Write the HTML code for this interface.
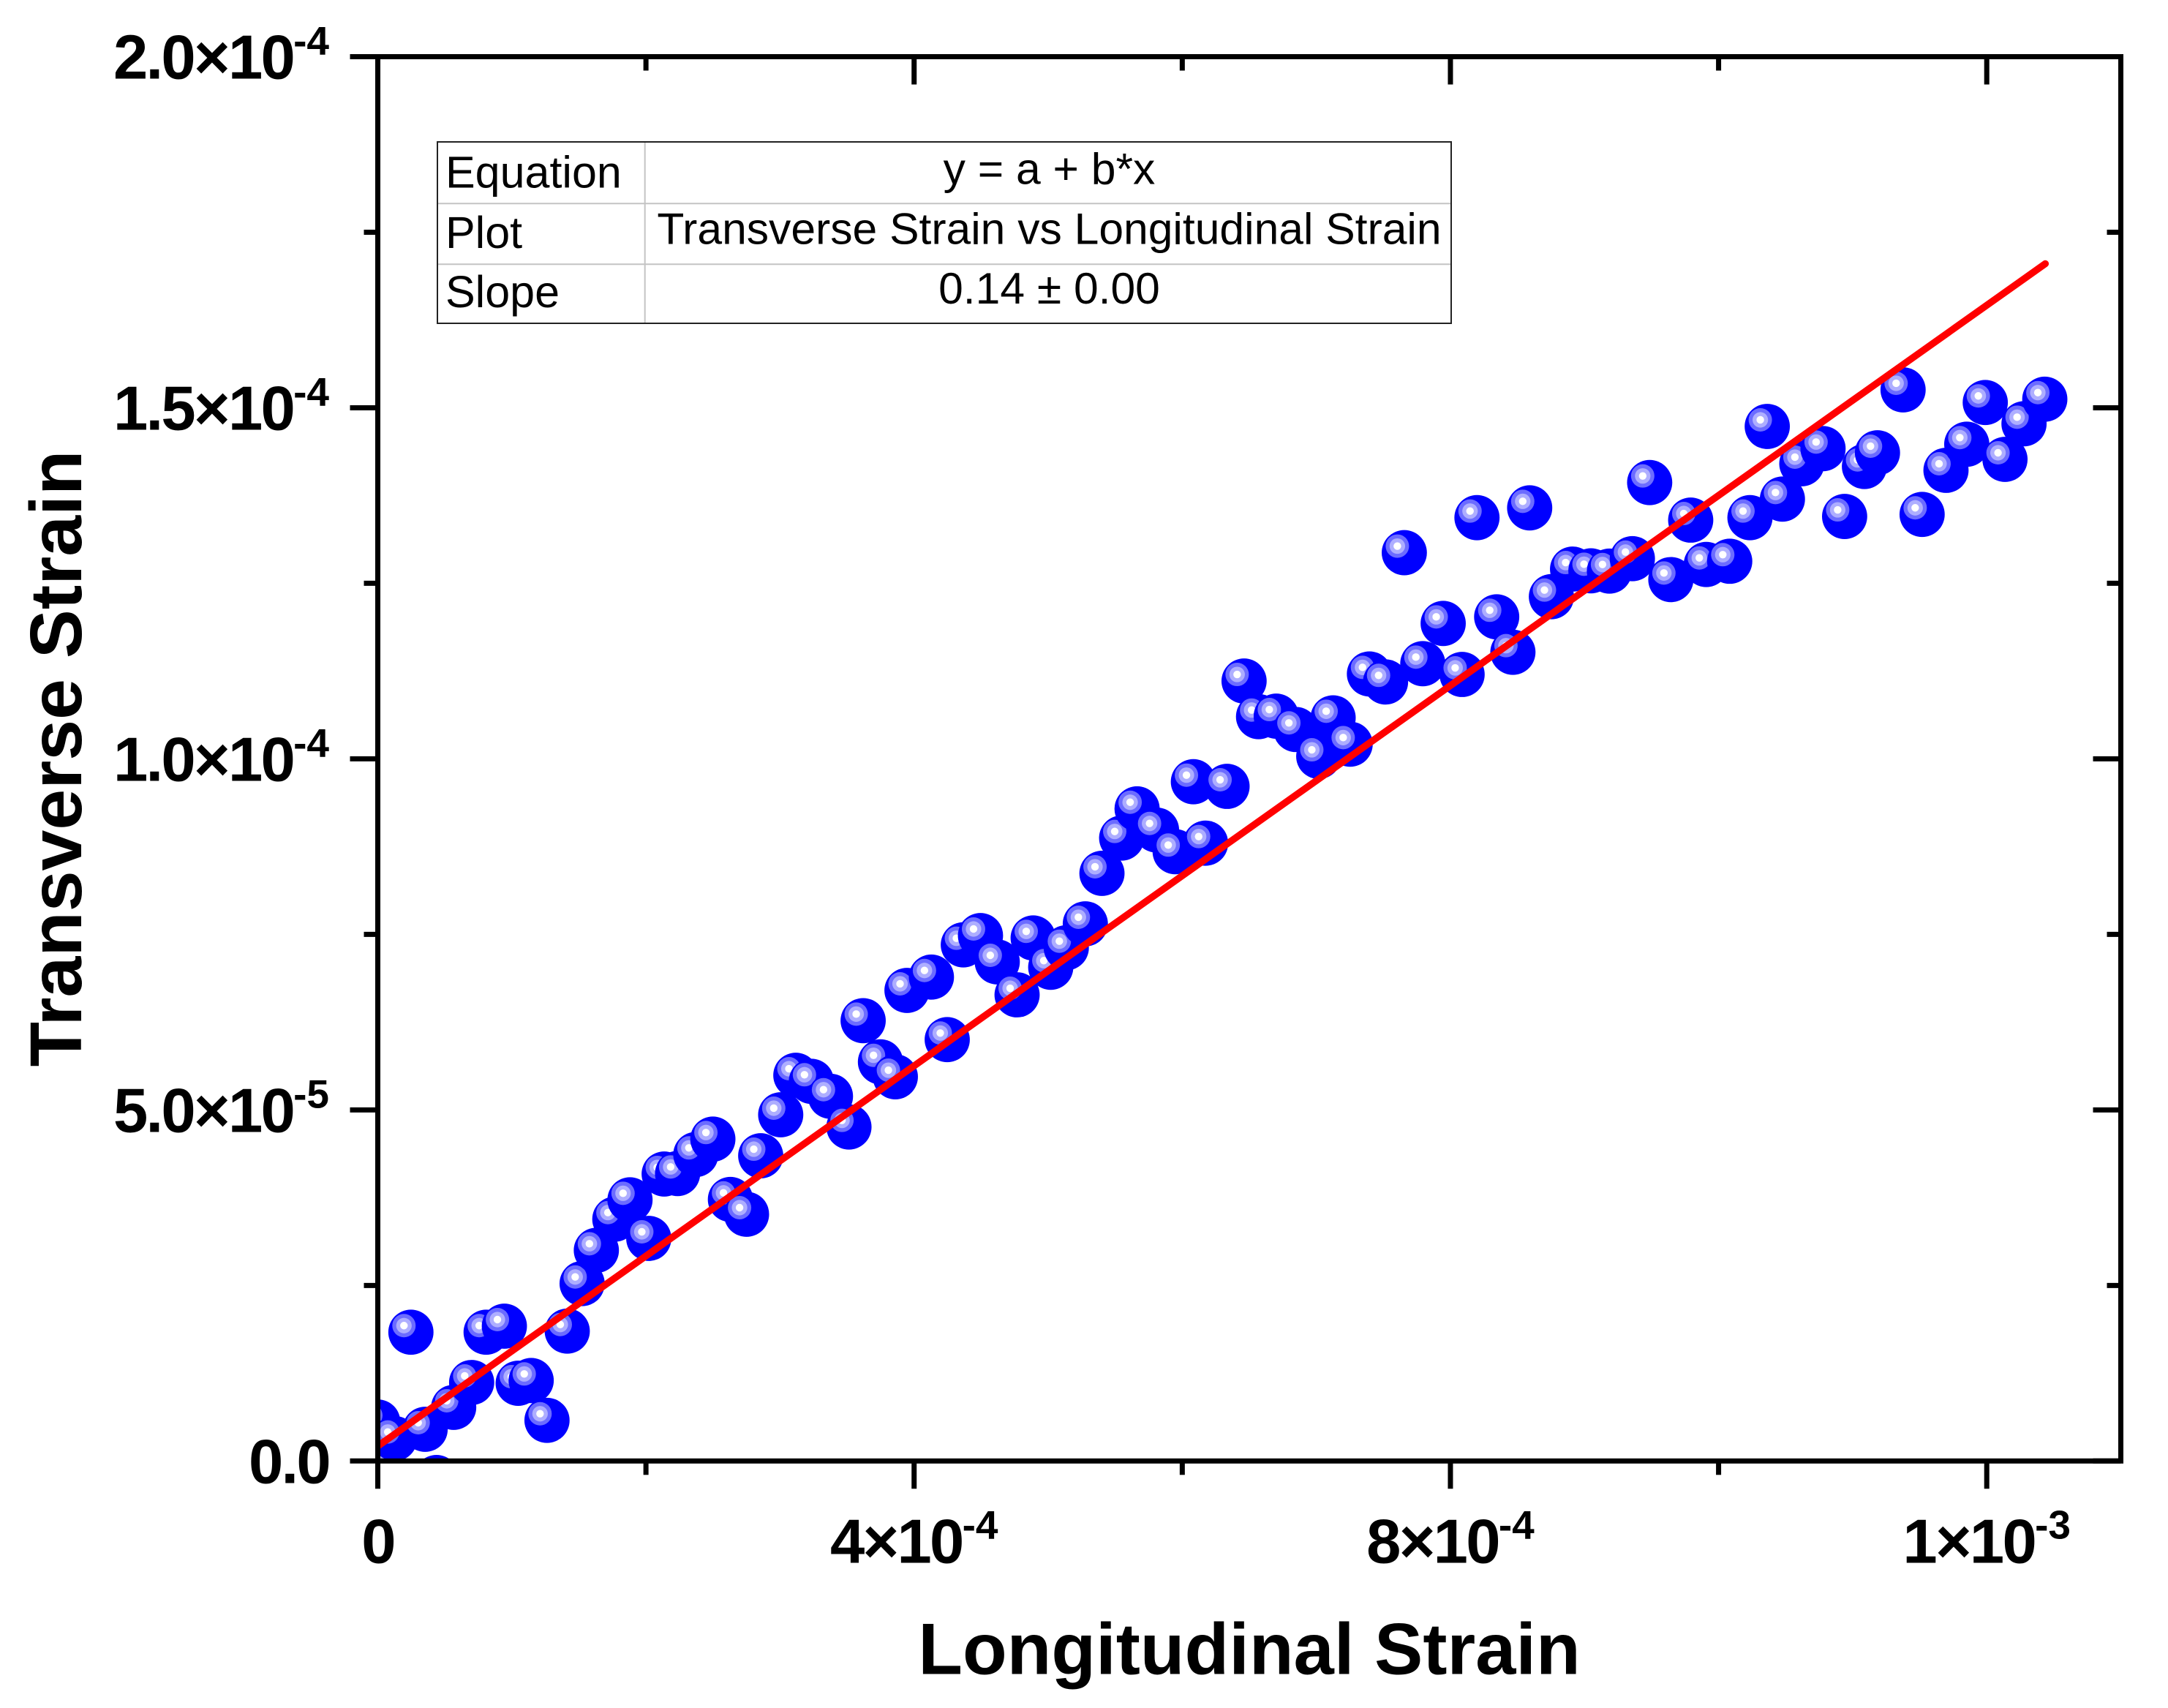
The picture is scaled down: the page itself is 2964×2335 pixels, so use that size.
<!DOCTYPE html>
<html lang="en">
<head>
<meta charset="utf-8">
<title>Transverse Strain vs Longitudinal Strain</title>
<style>
  html, body { margin: 0; padding: 0; background: #ffffff; }
  svg { display: block; }
  text { font-family: "Liberation Sans", Arial, sans-serif; fill: #000; }
</style>
</head>
<body>
<svg id="chart" xmlns="http://www.w3.org/2000/svg" width="2964" height="2335" viewBox="0 0 2964 2335">
  <defs>
    <clipPath id="plot-clip"><rect x="516.5" y="77.5" width="2383" height="1919.8"></rect></clipPath>
  </defs>
  <rect x="0" y="0" width="2964" height="2335" fill="#ffffff"></rect>
  <g id="markers" clip-path="url(#plot-clip)"></g>
  <g id="fit" clip-path="url(#plot-clip)"></g>
  <g id="axes"></g>

  <g>
    <rect x="598" y="194" width="1386" height="248" fill="#ffffff"></rect>
    <line x1="598" y1="278.3" x2="1984" y2="278.3" stroke="#c4c4c4" stroke-width="2"></line>
    <line x1="598" y1="361.3" x2="1984" y2="361.3" stroke="#c4c4c4" stroke-width="2"></line>
    <line x1="881.7" y1="194" x2="881.7" y2="442" stroke="#c4c4c4" stroke-width="2"></line>
    <rect x="598" y="194" width="1386" height="248" fill="none" stroke="#222222" stroke-width="2"></rect>
    <text x="609" y="256.7" font-size="61">Equation</text>
    <text x="609" y="339" font-size="61">Plot</text>
    <text x="609" y="420" font-size="61">Slope</text>
    <text x="1434.5" y="251.7" font-size="60.6" text-anchor="middle">y = a + b*x</text>
    <text x="1434.5" y="333.3" font-size="60.6" text-anchor="middle">Transverse Strain vs Longitudinal Strain</text>
    <text x="1434.5" y="415" font-size="60.6" text-anchor="middle">0.14 ± 0.00</text>
  </g>

  <text x="1708" y="2288.5" font-size="99.4" font-weight="700" text-anchor="middle">Longitudinal Strain</text>
  <text transform="translate(111 1037) rotate(-90)" x="0" y="0" font-size="100.4" font-weight="700" text-anchor="middle">Transverse Strain</text>
</svg>

<script>
// Longitudinal strain, in units of 1e-4
const longitudinalStrainE4 = [
  0, 0.044, 0.126, 0.247, 0.353, 0.438, 0.566, 0.700, 0.808, 0.944,
  1.047, 1.144, 1.262, 1.413, 1.524, 1.630, 1.768, 1.881, 2.021, 2.136,
  2.236, 2.372, 2.499, 2.630, 2.750, 2.856, 3.005, 3.118, 3.234, 3.376,
  3.514, 3.620, 3.749, 3.860, 3.947, 4.129, 4.247, 4.367, 4.495, 4.620,
  4.768, 4.888, 5.019, 5.135, 5.277, 5.401, 5.548, 5.663, 5.808, 5.947,
  6.083, 6.174, 6.334, 6.461, 6.569, 6.701, 6.847, 7.018, 7.125, 7.252,
  7.396, 7.516, 7.656, 7.794, 7.946, 8.087, 8.198, 8.345, 8.466, 8.591, 8.753,
  8.911, 9.048, 9.186, 9.357, 9.486, 9.644, 9.792, 9.908, 10.083, 10.234,
  10.363, 10.476, 10.621, 10.779, 10.940, 11.088, 11.185, 11.376, 11.518, 11.696,
  11.851, 11.989, 12.136, 12.278, 12.433
];
// Transverse strain, in units of 1e-5
const transverseStrainE5 = [
  0.555, -0.070, 0.319, 1.834, 0.451, -0.236, 0.764, 1.118, 1.834, 1.920,
  1.107, 1.146, 0.579, 1.850, 2.527, 3.000, 3.444, 3.719, 3.170, 4.087,
  4.094, 4.365, 4.584, 3.725, 3.514, 4.347, 4.931, 5.493, 5.407, 5.194,
  4.757, 6.271, 5.684, 5.472, 6.702, 6.892, 6.001, 7.351, 7.483, 7.108,
  6.639, 7.449, 7.032, 7.309, 7.650, 8.369, 8.872, 9.288, 8.986, 8.678,
  9.674, 8.799, 9.608, 11.108, 10.601, 10.608, 10.418, 10.035, 10.584, 10.209,
  11.209, 11.095, 12.936, 11.355, 11.928, 11.202, 13.435, 12.022, 11.518, 13.574, 12.310,
  12.702, 12.678, 12.674, 12.851, 13.935, 12.553, 13.400, 12.768, 12.814, 13.435,
  14.734, 13.699, 14.203, 14.418, 13.452, 14.164, 14.359, 15.255, 13.481, 14.109,
  14.481, 15.075, 14.265, 14.772, 15.122
];
// Linear fit: slope is dimensionless, so 1e-4 in x gives slope*10 in units of 1e-5
const fitInterceptE5 = 0.2115;
const fitSlope = 0.1354;
const fitRangeE4 = [0, 12.437];

// Axis ticks
const xTickValues = [0, 2, 4, 6, 8, 10, 12];
const xMajorValues = [0, 4, 8, 12];
const xTickBases = ['0', '4×10', '8×10', '1×10'];
const xTickExponents = ['', '-4', '-4', '-3'];
const yTickValues = [0, 2.5, 5, 7.5, 10, 12.5, 15, 17.5, 20];
const yMajorValues = [0, 5, 10, 15, 20];
const yTickBases = ['0.0', '5.0×10', '1.0×10', '1.5×10', '2.0×10'];
const yTickExponents = ['', '-5', '-4', '-4', '-4'];

const xDomain = [0, 13];
const yDomain = [0, 20];
const plotLeft = 516.5, plotRight = 2899.5, plotTop = 77.5, plotBottom = 1997.3;

function xScale(v) {
  return plotLeft + (v - xDomain[0]) / (xDomain[1] - xDomain[0]) * (plotRight - plotLeft);
}
function yScale(v) {
  return plotBottom - (v - yDomain[0]) / (yDomain[1] - yDomain[0]) * (plotBottom - plotTop);
}

const NS = 'http://www.w3.org/2000/svg';
function make(tag, attrs, parent) {
  const el = document.createElementNS(NS, tag);
  for (const k in attrs) el.setAttribute(k, attrs[k]);
  parent.appendChild(el);
  return el;
}

// Markers
const markerLayer = document.getElementById('markers');
const ballRadius = 30.9;
longitudinalStrainE4.forEach(function (xv, i) {
  const cx = xScale(xv);
  const cy = yScale(transverseStrainE5[i]);
  const g = make('g', {}, markerLayer);
  
  
  make('circle', { cx: cx, cy: cy, r: ballRadius, fill: '#0000ff' }, g);
  make('circle', { cx: cx - 9.5, cy: cy - 9, r: 16, fill: '#6c6cff' }, g);
  make('circle', { cx: cx - 9.5, cy: cy - 9, r: 10.6, fill: '#aeaeff' }, g);
  make('circle', { cx: cx - 9.5, cy: cy - 9, r: 5.2, fill: '#ffffff' }, g);
});

// Fit line
const fitLayer = document.getElementById('fit');
const fitLine = make('line', {
  x1: xScale(fitRangeE4[0]),
  y1: yScale(fitInterceptE5 + fitSlope * 10 * fitRangeE4[0]),
  x2: xScale(fitRangeE4[1]),
  y2: yScale(fitInterceptE5 + fitSlope * 10 * fitRangeE4[1]),
  stroke: '#ff0000',
  'stroke-width': 9.5,
  'stroke-linecap': 'round'
}, fitLayer);



// Axes
const axesLayer = document.getElementById('axes');
const frame = make('rect', {
  x: plotLeft, y: plotTop,
  width: plotRight - plotLeft, height: plotBottom - plotTop,
  fill: 'none', stroke: '#000', 'stroke-width': 7
}, axesLayer);



const majorLen = 38, minorLen = 19, tickWidth = 7;
xTickValues.forEach(function (v) {
  const x = xScale(v);
  const len = xMajorValues.indexOf(v) >= 0 ? majorLen : minorLen;
  const bottomTick = make('line', { x1: x, y1: plotBottom, x2: x, y2: plotBottom + len, stroke: '#000', 'stroke-width': tickWidth }, axesLayer);
  
  
  const topTick = make('line', { x1: x, y1: plotTop, x2: x, y2: plotTop + len, stroke: '#000', 'stroke-width': tickWidth }, axesLayer);
  
  
});
yTickValues.forEach(function (v) {
  const y = yScale(v);
  const len = yMajorValues.indexOf(v) >= 0 ? majorLen : minorLen;
  const leftTick = make('line', { x1: plotLeft, y1: y, x2: plotLeft - len, y2: y, stroke: '#000', 'stroke-width': tickWidth }, axesLayer);
  
  
  const rightTick = make('line', { x1: plotRight, y1: y, x2: plotRight - len, y2: y, stroke: '#000', 'stroke-width': tickWidth }, axesLayer);
  
  
});

function tickLabel(base, exponent, x, y, anchor, parent) {
  const t = make('text', { x: x, y: y, 'font-size': 85, 'font-weight': 700, 'text-anchor': anchor }, parent);
  const b = make('tspan', { 'letter-spacing': -2.7 }, t);
  b.textContent = base;
  if (exponent) {
    const s = make('tspan', { dy: -33, 'font-size': 55, 'letter-spacing': 0 }, t);
    s.textContent = exponent;
  }
  return t;
}
xMajorValues.forEach(function (v, i) {
  const lbl = tickLabel(xTickBases[i], xTickExponents[i], xScale(v), 2136.5, 'middle', axesLayer);
  
  
});
yMajorValues.forEach(function (v, i) {
  const lbl = tickLabel(yTickBases[i], yTickExponents[i], 450, yScale(v) + 30, 'end', axesLayer);
  
  
});
</script>
</body>
</html>
